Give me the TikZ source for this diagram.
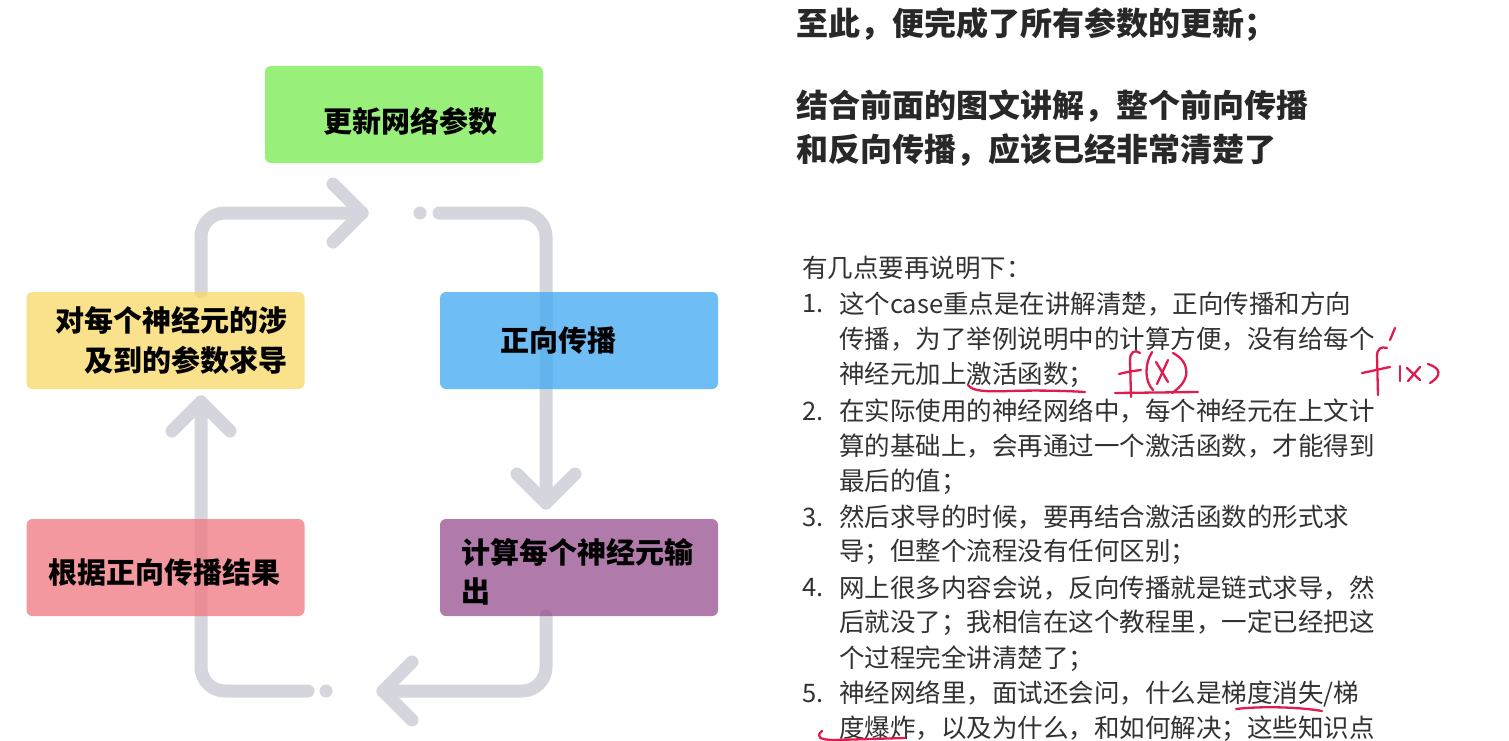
\documentclass[tikz,border=0pt]{standalone}
\usepackage{fontspec}
\setmainfont{Noto Sans CJK SC}
\usetikzlibrary{calc}
\definecolor{linegrey}{RGB}{213,213,222}
\definecolor{cgreen}{RGB}{118,236,80}
\definecolor{cyellow}{RGB}{249,216,102}
\definecolor{cblue}{RGB}{62,168,242}
\definecolor{cpink}{RGB}{240,118,126}
\definecolor{cpurple}{RGB}{150,78,143}
\definecolor{titlegrey}{RGB}{40,40,40}
\definecolor{bodygrey}{RGB}{50,50,50}
\definecolor{handred}{RGB}{222,28,78}
\pgfdeclarelayer{bglayer}
\pgfdeclarelayer{linelayer}
\pgfsetlayers{bglayer,linelayer,main}
\tikzset{
 box/.style={rectangle, rounded corners=6pt, minimum width=278pt, minimum height=97pt, inner sep=0pt, fill opacity=0.75, draw=none},
 boxtext/.style={font=\fontsize{29}{38}\selectfont\bfseries, text=black, inner sep=0pt},
 conn/.style={draw=linegrey, line width=13pt, line cap=round, line join=round, rounded corners=24pt},
 chev/.style={draw=linegrey, line width=13pt, line cap=round, line join=round},
 dotm/.style={circle, fill=linegrey, minimum size=13pt, inner sep=0pt},
 titletext/.style={font=\fontsize{32}{40}\selectfont\bfseries, text=titlegrey, anchor=west, inner sep=0pt},
 bodytext/.style={font=\fontsize{25.5}{30}\selectfont, text=bodygrey, anchor=west, inner sep=0pt},
 hand/.style={draw=handred, line width=2.3pt, line cap=round, line join=round},
}
\begin{document}
\begin{tikzpicture}[x=1pt,y=-1pt]
\useasboundingbox (0,0) rectangle (1509,741);
\begin{pgfonlayer}{bglayer}
\fill[white] (0,0) rectangle (1509,741);
\end{pgfonlayer}

% boxes
\node[box, fill=cgreen]  (upd)  at (404,114.5) {};
\node[box, fill=cyellow] (der)  at (165.5,340.5) {};
\node[box, fill=cblue]   (fwd)  at (579,340.5) {};
\node[box, fill=cpink]   (res)  at (165.5,567.5) {};
\node[box, fill=cpurple] (out)  at (579,567.5) {};

% box texts
\node[boxtext] (updt) at (410,121) {更新网络参数};
\node[boxtext, anchor=east] (dert1) at (288,320) {对每个神经元的涉};
\node[boxtext, anchor=east] (dert2) at (288,360) {及到的参数求导};
\node[boxtext] (fwdt) at (558,341) {正向传播};
\node[boxtext] (rest) at (164,572) {根据正向传播结果};
\node[boxtext, anchor=west] (outt1) at (461,552) {计算每个神经元输};
\node[boxtext, anchor=west] (outt2) at (461,591) {出};

% connectors
\coordinate (c1) at (201,213);
\coordinate (a1) at (362,213);
\coordinate (s2) at (439,213);
\coordinate (c2) at (546,213);
\coordinate (a2) at (546,503);
\coordinate (c3) at (546,691);
\coordinate (a3) at (383,691);
\coordinate (s4) at (308,691);
\coordinate (c4) at (201,691);
\coordinate (a4) at (201,402);
\begin{pgfonlayer}{linelayer}
\draw[conn] (der.north -| c1) -- (c1) -- (a1);
\draw[chev] ($(a1)+(-29,-29)$) -- (a1) -- ($(a1)+(-29,29)$);
\node[dotm] (d1) at (420,213) {};
\draw[conn] (s2) -- (c2) -- (a2);
\draw[chev] ($(a2)+(-29,-29)$) -- (a2) -- ($(a2)+(29,-29)$);
\draw[conn] (out.south -| c3) -- (c3) -- (a3);
\draw[chev] ($(a3)+(29,-29)$) -- (a3) -- ($(a3)+(29,29)$);
\node[dotm] (d2) at (326,691) {};
\draw[conn] (s4) -- (c4) -- (a4);
\draw[chev] ($(a4)+(-29,29)$) -- (a4) -- ($(a4)+(29,29)$);
\end{pgfonlayer}

% right-hand text
\node[titletext] (t1) at (796,25) {至此，便完成了所有参数的更新；};
\node[titletext] (t2) at (796,106) {结合前面的图文讲解，整个前向传播};
\node[titletext] (t3) at (796,150) {和反向传播，应该已经非常清楚了};

\node[bodytext] (h0) at (802,268) {有几点要再说明下：};
\node[bodytext] (n1) at (802,304) {1.};
\node[bodytext] (l1a) at (839,304) {这个case重点是在讲解清楚，正向传播和方向};
\node[bodytext] (l1b) at (839,339) {传播，为了举例说明中的计算方便，没有给每个};
\node[bodytext] (l1c) at (839,375) {神经元加上激活函数；};
\node[bodytext] (n2) at (802,411) {2.};
\node[bodytext] (l2a) at (839,411) {在实际使用的神经网络中，每个神经元在上文计};
\node[bodytext] (l2b) at (839,446) {算的基础上，会再通过一个激活函数，才能得到};
\node[bodytext] (l2c) at (839,482) {最后的值；};
\node[bodytext] (n3) at (802,517) {3.};
\node[bodytext] (l3a) at (839,517) {然后求导的时候，要再结合激活函数的形式求};
\node[bodytext] (l3b) at (839,552) {导；但整个流程没有任何区别；};
\node[bodytext] (n4) at (802,588) {4.};
\node[bodytext] (l4a) at (839,588) {网上很多内容会说，反向传播就是链式求导，然};
\node[bodytext] (l4b) at (839,623) {后就没了；我相信在这个教程里，一定已经把这};
\node[bodytext] (l4c) at (839,659) {个过程完全讲清楚了；};
\node[bodytext] (n5) at (802,694) {5.};
\node[bodytext] (l5a) at (839,694) {神经网络里，面试还会问，什么是梯度消失/梯};
\node[bodytext] (l5b) at (839,729) {度爆炸，以及为什么，和如何解决；这些知识点};

% handwritten annotations
\draw[hand] (968,385) .. controls (972,391) and (985,392) .. (1010,391) .. controls (1040,390) and (1070,391) .. (1085,392);
% f(x)
\draw[hand] (1131,397) -- (1130,360) .. controls (1130,352) and (1135,349) .. (1140,353);
\draw[hand] (1119,374) .. controls (1126,372) and (1133,371) .. (1141,370);
\draw[hand] (1152,352) .. controls (1144,365) and (1145,382) .. (1153,390);
\draw[hand] (1156,362) -- (1168,382);
\draw[hand] (1168,360) -- (1157,384);
\draw[hand] (1173,353) .. controls (1190,362) and (1192,380) .. (1172,393);
\draw[hand] (1115,393) -- (1198,392);
% f'(x)
\draw[hand] (1395,328) -- (1390,340);
\draw[hand] (1378,395) -- (1377,356) .. controls (1377,349) and (1381,346) .. (1387,348);
\draw[hand] (1362,373) .. controls (1372,371) and (1380,369) .. (1390,367);
\draw[hand] (1400,366) -- (1400,381);
\draw[hand] (1407,368) -- (1420,380);
\draw[hand] (1420,367) -- (1408,381);
\draw[hand] (1428,364) .. controls (1440,368) and (1443,375) .. (1430,383);
% underlines in item 5
\draw[hand] (1236,709) .. controls (1260,706) and (1300,707) .. (1322,711);
\draw[hand] (822,731) .. controls (815,737) and (820,740) .. (835,740) -- (905,738);
\end{tikzpicture}
\end{document}
